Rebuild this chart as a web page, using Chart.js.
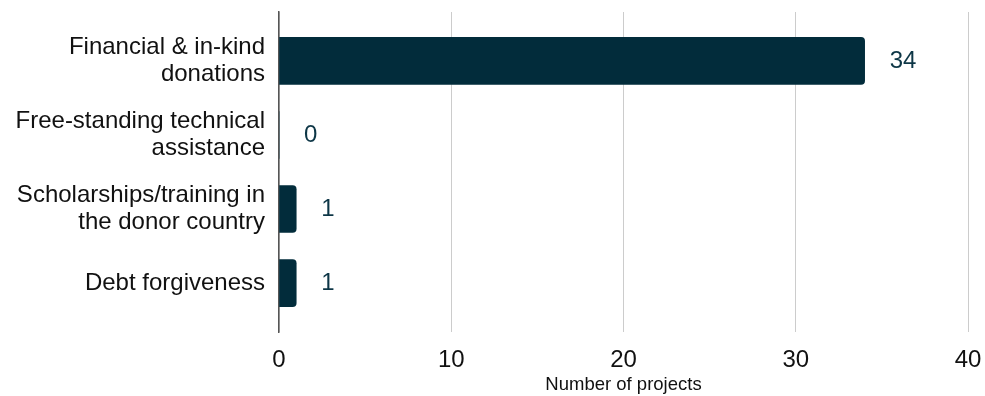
<!DOCTYPE html>
<html>
<head>
<meta charset="utf-8">
<script src="https://cdn.jsdelivr.net/npm/chart.js@4"></script>
<style>
  html, body { margin: 0; padding: 0; background: #fff; }
  .wrap { width: 985px; height: 396px; }
</style>
</head>
<body>
<div class="wrap"><canvas id="chart" width="985" height="396"></canvas></div>
<script>
const categories = [
  ["Financial & in-kind", "donations"],
  ["Free-standing technical", "assistance"],
  ["Scholarships/training in", "the donor country"],
  "Debt forgiveness"
];
const projects = [34, 0, 1, 1];
const xTicks = [0, 10, 20, 30, 40];

const barColor = "#022c3b";
const labelColor = "#0d3646";
const fontFamily = "'Liberation Sans', Arial, sans-serif";

// values next to bar ends
const valueLabels = {
  id: "valueLabels",
  afterDatasetsDraw(chart) {
    const ctx = chart.ctx;
    const meta = chart.getDatasetMeta(0);
    ctx.save();
    ctx.font = "24px " + fontFamily;
    ctx.fillStyle = labelColor;
    ctx.textAlign = "left";
    ctx.textBaseline = "middle";
    meta.data.forEach((bar, i) => {
      ctx.fillText(String(projects[i]), bar.x + 25, bar.y);
    });
    ctx.restore();
  }
};

new Chart(document.getElementById("chart"), {
  type: "bar",
  data: {
    labels: categories,
    datasets: [{
      data: projects,
      backgroundColor: barColor,
      borderRadius: { topRight: 4, bottomRight: 4 },
      borderSkipped: "start",
      barThickness: 47
    }]
  },
  options: {
    indexAxis: "y",
    responsive: false,
    animation: false,
    layout: { padding: { top: 12, right: 17, bottom: 0, left: 0 } },
    plugins: {
      legend: { display: false },
      tooltip: { enabled: false }
    },
    scales: {
      x: {
        min: 0,
        max: 40,
        afterBuildTicks: (scale) => {
          scale.ticks = xTicks.map((v) => ({ value: v }));
        },
        afterFit: (scale) => {
          scale.height = 64;
          scale.paddingLeft = 0;
          scale.paddingRight = 0;
        },
        border: { display: false },
        grid: { color: "#cccccc", lineWidth: 1, drawTicks: false },
        ticks: {
          padding: 14,
          color: "#111111",
          font: { family: fontFamily, size: 24 }
        },
        title: {
          display: true,
          text: "Number of projects",
          color: "#111111",
          font: { family: fontFamily, size: 18.5 },
          padding: { top: 4, bottom: 0 }
        }
      },
      y: {
        afterFit: (scale) => {
          scale.width = 279;
          scale.paddingTop = 0;
          scale.paddingBottom = 0;
        },
        afterBuildTicks: (scale) => {
          // categories occupy a slightly narrower band than the plot area
          scale._valueRange = 4.32;
          scale._startValue = -0.66;
        },
        border: { display: true, color: "#555555", width: 1.5 },
        grid: { display: false, drawTicks: false },
        ticks: {
          padding: 14,
          color: "#111111",
          font: { family: fontFamily, size: 24, lineHeight: 1.13 }
        }
      }
    }
  },
  plugins: [valueLabels]
});
</script>
</body>
</html>
